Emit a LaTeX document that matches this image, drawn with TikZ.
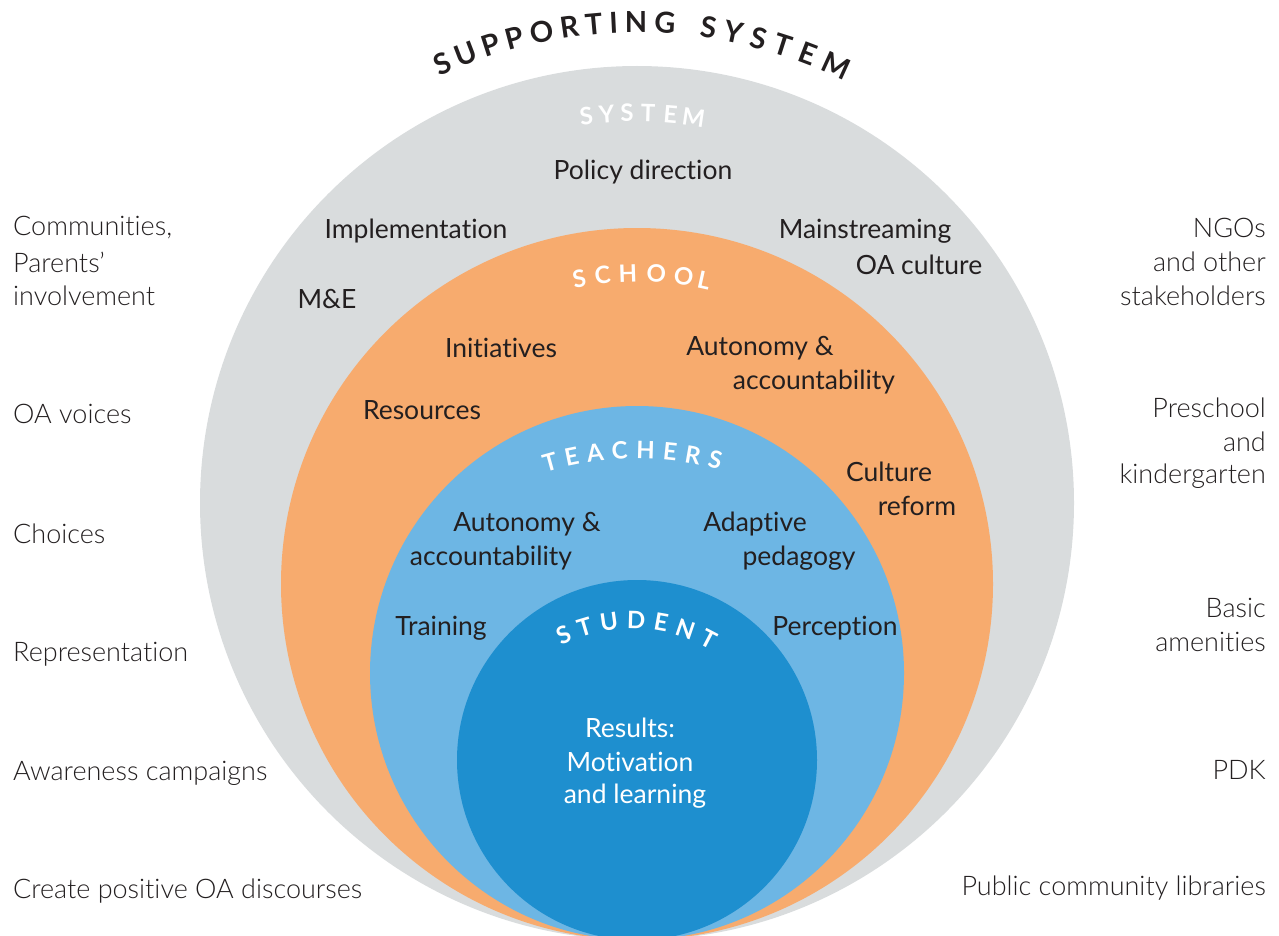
\documentclass[tikz,border=0pt]{standalone}
\usepackage{fontspec}
\setmainfont{Lato}[Ligatures=NoCommon]
\newfontfamily\lightfont{Lato Light}[Ligatures=NoCommon]
\definecolor{cgray}{HTML}{D9DCDD}
\definecolor{corange}{HTML}{F7AB6E}
\definecolor{clblue}{HTML}{6DB6E4}
\definecolor{cdblue}{HTML}{1E8FCF}
\definecolor{ctext}{HTML}{231F20}
\tikzset{
  inner/.style={font=\fontsize{26.5}{34}\selectfont, text=ctext, inner sep=0pt, align=center},
  outerl/.style={font=\fontsize{27}{34}\selectfont\lightfont, text=ctext, inner sep=0pt, anchor=west},
  outerr/.style={font=\fontsize{27}{34}\selectfont\lightfont, text=ctext, inner sep=0pt, anchor=east},
  bigletter/.style={font=\fontsize{29}{29}\selectfont\bfseries, text=ctext, inner sep=0pt, text height=0.72em, text depth=0pt},
  letter/.style={font=\fontsize{24}{24}\selectfont\bfseries, text=white, inner sep=0pt, text height=0.72em, text depth=0pt}
}
\begin{document}
\begin{tikzpicture}[x=1pt,y=-1pt]
\useasboundingbox (0,0) rectangle (1279,936);
\clip (0,0) rectangle (1279,936);
% circles
\fill[cgray] (637,503) circle[radius=437pt];
\fill[corange] (637,584) circle[radius=356pt];
\fill[clblue] (637,673) circle[radius=267pt];
\fill[cdblue] (637,760) circle[radius=180pt];
% curved titles
\foreach \l/\a in {S/-24.02,U/-20.96,P/-17.77,P/-14.80,O/-11.48,R/-8.13,T/-5.18,I/-2.81,N/-0.12,G/3.34,S/8.60,Y/11.69,S/14.77,T/17.81,E/20.86,M/24.53}
  \node[bigletter, rotate=-\a] (sup\l\a) at ({637+472*sin(\a)},{501-472*cos(\a)}) {\l};
\foreach \l/\a in {S/-7.46,Y/-4.47,S/-1.49,T/1.64,E/4.91,M/8.36}
  \node[letter, rotate=-\a] (sys\l\a) at ({637+385*sin(\a)},{503-385*cos(\a)}) {\l};
\foreach \l/\a in {S/-10.7,C/-6.38,H/-1.69,O/3.56,O/8.65,L/12.45}
  \node[letter, rotate=-\a] (sch\l\a) at ({637+306*sin(\a)},{584-306*cos(\a)}) {\l};
\foreach \l/\a in {T/-15.52,E/-11.58,A/-7.43,C/-3.06,H/1.51,E/5.86,R/9.91,S/13.93}
  \node[letter, rotate=-\a] (tea\l\a) at ({637+320*sin(\a)},{775-320*cos(\a)}) {\l};
\foreach \l/\a in {S/-24.53,T/-16.67,U/-7.99,D/1.47,E/10.15,N/18.84,T/27.65}
  \node[letter, rotate=-\a] (stu\l\a) at ({632+160*sin(\a)},{785-160*cos(\a)}) {\l};
% system level
\node[inner] (policy) at (643,172) {Policy direction};
\node[inner] (impl) at (416,231) {Implementation};
\node[inner] (main1) at (865,231) {Mainstreaming};
\node[inner] (main2) at (919,265) {OA culture};
\node[inner] (me) at (327,299) {M\&E};
% school level
\node[inner] (init) at (501,348) {Initiatives};
\node[inner] (sauto1) at (760,348) {Autonomy \&};
\node[inner] (sauto2) at (814,382) {accountability};
\node[inner] (res) at (422,410) {Resources};
\node[inner] (cult1) at (889,472) {Culture};
\node[inner] (cult2) at (917,506) {reform};
% teacher level
\node[inner] (tauto1) at (527,524) {Autonomy \&};
\node[inner] (tauto2) at (491,558) {accountability};
\node[inner] (adap1) at (755,524) {Adaptive};
\node[inner] (adap2) at (799,558) {pedagogy};
\node[inner] (train) at (441,628) {Training};
\node[inner] (perc) at (835,628) {Perception};
% student
\node[inner, text=white] (res1) at (630,728) {Results:};
\node[inner, text=white] (res2) at (630,762) {Motivation};
\node[inner, text=white] (res3) at (635,796) {and learning};
% left side
\node[outerl] (l1) at (13,228) {Communities,};
\node[outerl] (l2) at (13,262) {Parents’};
\node[outerl] (l3) at (13,296) {involvement};
\node[outerl] (l4) at (13,414) {OA voices};
\node[outerl] (l5) at (13,534) {Choices};
\node[outerl] (l6) at (13,654) {Representation};
\node[outerl] (l7) at (13,773) {Awareness campaigns};
\node[outerl] (l8) at (13,891) {Create positive OA discourses};
% right side
\node[outerr] (r1) at (1266,228) {NGOs};
\node[outerr] (r2) at (1266,262) {and other};
\node[outerr] (r3) at (1266,296) {stakeholders};
\node[outerr] (r4) at (1266,408) {Preschool};
\node[outerr] (r5) at (1266,442) {and};
\node[outerr] (r6) at (1266,476) {kindergarten};
\node[outerr] (r7) at (1266,608) {Basic};
\node[outerr] (r8) at (1266,642) {amenities};
\node[outerr] (r9) at (1266,770) {PDK};
\node[outerr] (r10) at (1266,888) {Public community libraries};
\end{tikzpicture}
\end{document}
